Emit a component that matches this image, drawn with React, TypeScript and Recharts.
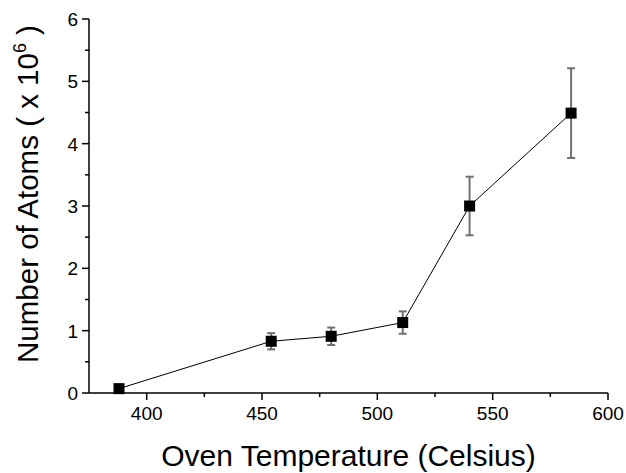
import React from 'react';
import { ComposedChart, Line, XAxis, YAxis, ErrorBar, Label } from 'recharts';

const temps = [388, 454, 480, 511, 540, 584];
const atoms = [0.07, 0.83, 0.91, 1.13, 3.0, 4.49];
const errors = [0.03, 0.13, 0.14, 0.18, 0.47, 0.72];
const xTicks = [400, 425, 450, 475, 500, 525, 550, 575, 600];
const yTicks = [0, 0.5, 1, 1.5, 2, 2.5, 3, 3.5, 4, 4.5, 5, 5.5, 6];

const data = temps.map((t, i) => ({ temp: t, atoms: atoms[i], err: errors[i] }));

const FONT = '"Liberation Sans", Arial, sans-serif';

const XTick = (props: any) => {
    const { x, y, payload } = props;
    const major = payload.value % 50 === 0;
    return (
        <g>
            <line x1={x} x2={x} y1={y} y2={y + (major ? 7 : 4)} stroke="#000" strokeWidth={1.5} />
            {major && (
                <text x={x} y={y + 27} textAnchor="middle" fontSize={19} fontFamily={FONT} fill="#000">
                    {payload.value}
                </text>
            )}
        </g>
    );
};

const YTick = (props: any) => {
    const { x, y, payload } = props;
    const major = Number.isInteger(payload.value);
    return (
        <g>
            <line x1={x} x2={x - (major ? 7 : 4)} y1={y} y2={y} stroke="#000" strokeWidth={1.5} />
            {major && (
                <text x={x - 11} y={y + 7} textAnchor="end" fontSize={19} fontFamily={FONT} fill="#000">
                    {payload.value}
                </text>
            )}
        </g>
    );
};

const SquareDot = (props: any) => {
    const { cx, cy, index } = props;
    return <rect key={`dot-${index}`} x={cx - 5.5} y={cy - 5.5} width={11} height={11} fill="#000" />;
};

const App: React.FC = () => {
    return (
        <div style={{ position: 'absolute', left: 0, top: 0, background: '#fff' }}>
            <ComposedChart width={626} height={473} data={data} margin={{ top: 19, right: 18, left: 0, bottom: 0 }}>
                <XAxis
                    dataKey="temp"
                    type="number"
                    domain={[375, 600]}
                    ticks={xTicks}
                    height={80}
                    tickSize={0}
                    tickMargin={0}
                    tickLine={false}
                    tick={<XTick />}
                    axisLine={{ stroke: '#000', strokeWidth: 1.5 }}
                    interval={0}
                >
                    <Label
                        content={(p: any) => {
                            const vb = p.viewBox;
                            return (
                                <text x={vb.x + vb.width / 2} y={vb.y + 73} textAnchor="middle" fontSize={30} fontFamily={FONT} fill="#000">
                                    Oven Temperature (Celsius)
                                </text>
                            );
                        }}
                    />
                </XAxis>
                <YAxis
                    type="number"
                    domain={[0, 6]}
                    ticks={yTicks}
                    width={89}
                    tickSize={0}
                    tickMargin={0}
                    tickLine={false}
                    tick={<YTick />}
                    axisLine={{ stroke: '#000', strokeWidth: 1.5 }}
                    interval={0}
                >
                    <Label
                        content={(p: any) => {
                            const vb = p.viewBox;
                            const cx = 38;
                            const cy = vb.y + vb.height / 2 - 12;
                            return (
                                <text
                                    x={cx}
                                    y={cy}
                                    transform={`rotate(-90, ${cx}, ${cy})`}
                                    textAnchor="middle"
                                    fontSize={29.5}
                                    fontFamily={FONT}
                                    fill="#000"
                                >
                                    <tspan>Number of Atoms ( x 10</tspan>
                                    <tspan fontSize={18} dy={-12}>6</tspan>
                                    <tspan dy={12}> )</tspan>
                                </text>
                            );
                        }}
                    />
                </YAxis>
                <Line
                    dataKey="atoms"
                    type="linear"
                    stroke="#000"
                    strokeWidth={1}
                    dot={SquareDot}
                    activeDot={false}
                    isAnimationActive={false}
                >
                    <ErrorBar dataKey="err" direction="y" width={4} stroke="#707070" strokeWidth={2} />
                </Line>
            </ComposedChart>
        </div>
    );
};

export default App;
